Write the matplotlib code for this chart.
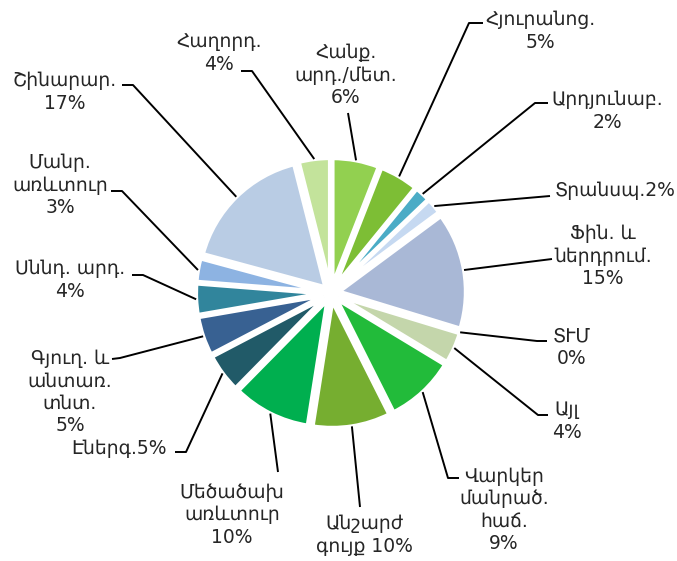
import math

import matplotlib
matplotlib.use("Agg")
import matplotlib.pyplot as plt

# sectors, clockwise from 12 o'clock
labels = [
    "Հանք.\nարդ./մետ.\n6%",
    "Հյուրանոց.\n5%",
    "Արդյունաբ.\n2%",
    "Տրանսպ.2%",
    "Ֆին. և\nներդրում.\n15%",
    "ՏՒՄ\n0%",
    "Այլ\n4%",
    "Վարկեր\nմանրած.\nհաճ.\n9%",
    "Անշարժ\nգույք 10%",
    "Մեծածախ\nառևտուր\n10%",
    "Էներգ.5%",
    "Գյուղ. և\nանտառ.\nտնտ.\n5%",
    "Սննդ. արդ.\n4%",
    "Մանր.\nառևտուր\n3%",
    "Շինարար.\n17%",
    "Հաղորդ.\n4%",
]
shares = [6, 5, 2, 2, 15, 0, 4, 9, 10, 10, 5, 5, 4, 3, 17, 4]
colors = [
    "#92D050", "#7DBE35", "#4BACC6", "#C6D9F1", "#A9B8D6", "#C4D6AB",
    "#C4D6AB", "#22BB3A", "#76AE30", "#00AF4F", "#215A68", "#386192",
    "#31859C", "#8DB3E2", "#B9CCE4", "#C3E39B",
]

W, H = 677, 561
CX, CY = 331, 293          # pie centre, pixel coords from top-left
R = 127
EXPL = 8

# label placement: text centre, elbow of the leader, end of the short tail
text_pos = [(346, 75), (540, 31), (607, 111), (615, 190), (603, 256),
            (572, 347), (567, 421), (504, 510), (364, 535), (232, 515),
            (119, 448), (70, 392), (70, 280), (60, 185), (65, 92), (219, 53)]
elbows = [(348, 113), (469, 23), (535, 103), (550, 196), (552, 259),
          (537, 341), (538, 415), (448, 478), (360, 507), (278, 472),
          (186, 452), (120, 358), (143, 275), (122, 191), (133, 85), (252, 71)]
tails = [None, (483, 23), (548, 103), None, None,
         (547, 341), (548, 415), (459, 478), None, None,
         (175, 452), (112, 359), (132, 275), (111, 191), (122, 85), (241, 71)]


def py(y):
    return H - y


fig = plt.figure(figsize=(W / 100, H / 100), dpi=100)
ax = fig.add_axes([0, 0, 1, 1])

wedges, _ = ax.pie(shares, colors=colors, startangle=90, counterclock=False,
                   radius=R, center=(CX, py(CY)), explode=[EXPL] * len(shares),
                   wedgeprops=dict(edgecolor="white", linewidth=3))
ax.set_xlim(0, W)
ax.set_ylim(0, H)
ax.set_aspect("equal")
ax.axis("off")

for w, lab, tp, el, tl in zip(wedges, labels, text_pos, elbows, tails):
    mid = math.radians((w.theta1 + w.theta2) / 2)
    cx, cy = w.center
    sx = cx + R * math.cos(mid)
    sy = cy + R * math.sin(mid)
    xs = [sx, el[0]]
    ys = [sy, py(el[1])]
    if tl is not None:
        xs.append(tl[0])
        ys.append(py(tl[1]))
    ax.plot(xs, ys, color="black", linewidth=1.4, solid_capstyle="butt")
    ax.text(tp[0], py(tp[1]), lab, ha="center", va="center",
            multialignment="center", fontsize=13.5, color="#262626",
            linespacing=1.22)

fig.savefig("out.png", dpi=100)
